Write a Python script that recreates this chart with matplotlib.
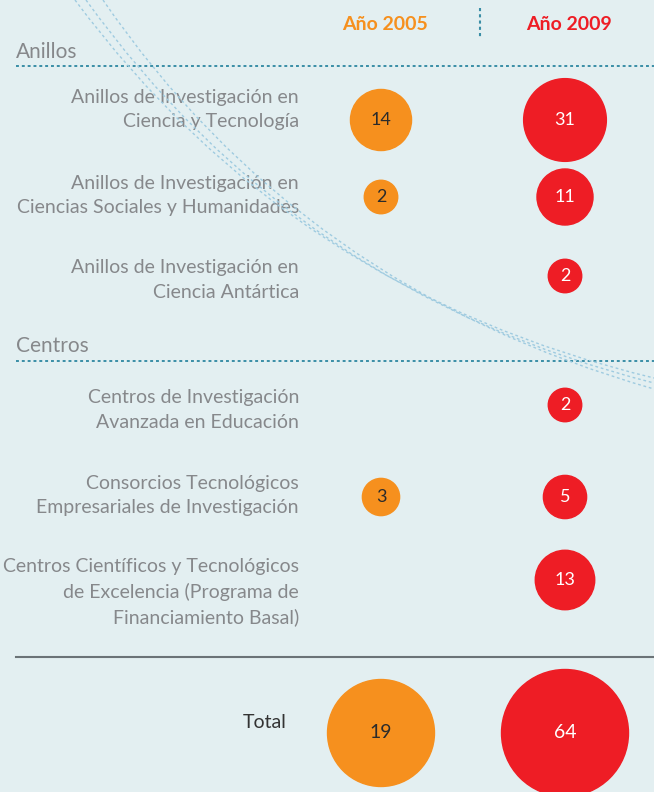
import numpy as np
import matplotlib
matplotlib.use("Agg")
import matplotlib.pyplot as plt
from matplotlib.patches import Circle, PathPatch
from matplotlib.path import Path

# data
years = ["Año 2005", "Año 2009"]
sections = ["Anillos", "Centros"]
labels = [
    "Anillos de Investigación en\nCiencia y Tecnología",
    "Anillos de Investigación en\nCiencias Sociales y Humanidades",
    "Anillos de Investigación en\nCiencia Antártica",
    "Centros de Investigación\nAvanzada en Educación",
    "Consorcios Tecnológicos\nEmpresariales de Investigación",
    "Centros Científicos y Tecnológicos\nde Excelencia (Programa de\nFinanciamiento Basal)",
]
v2005 = [14, 2, None, None, 3, None]
v2009 = [31, 11, 2, 2, 5, 13]
total_label = "Total"
totals = [19, 64]

# layout (pixel coords)
W, H = 654, 792
bg = "#e3eff1"
orange = "#f6901e"
red = "#ee1d25"
grey = "#86888b"
teal = "#3a8ea6"
col_x = [381, 565]
row_y = [120, 197, 276, 405, 497, 580]
label_y = [110, 195, 280, 410, 495, 592]
font = ["Lato", "DejaVu Sans"]


def diam(v):
    return 16.7 + 11.86 * np.sqrt(v)


def diam_total(v):
    return 83 + 5.5 * np.sqrt(v)


fig = plt.figure(figsize=(W / 100, H / 100), dpi=100, facecolor=bg)
ax = fig.add_axes([0, 0, 1, 1])
ax.set_xlim(0, W)
ax.set_ylim(H, 0)
ax.set_facecolor(bg)
ax.axis("off")

# decorative dotted arcs
for p0, c, p1 in [((75, 0), (291, 291), (654, 378)),
                  ((86, 0), (296, 292), (654, 383)),
                  ((103, 0), (300, 288), (654, 389))]:
    path = Path([p0, c, p1], [Path.MOVETO, Path.CURVE3, Path.CURVE3])
    ax.add_patch(PathPatch(path, fill=False, ec="#9fcbe0", lw=1.0,
                           ls=(0, (2, 2)), zorder=5))

# headers
for x, txt, colr in zip(col_x, years, [orange, red]):
    ax.text(x + 4, 24, txt, color=colr, fontsize=14, fontweight="bold",
            ha="center", va="center", family=font)
ax.plot([480, 480], [8, 37], color=teal, lw=1.5, ls=(0, (1.5, 1.5)))

# section headers and rules
for name, yb, yl in zip(sections, [58, 352], [66, 361]):
    ax.text(16, yb, name, color=grey, fontsize=15,
            ha="left", va="baseline", family=font)
    ax.plot([16, W], [yl, yl], color=teal, lw=1.4, ls=(0, (1.5, 1.5)),
            zorder=2)

# rows
for i, lab in enumerate(labels):
    ax.text(299, label_y[i], lab, color=grey, fontsize=14,
            ha="right", va="center", multialignment="right",
            linespacing=1.5, family=font)
    for j, vals in enumerate([v2005, v2009]):
        v = vals[i]
        if v is None:
            continue
        colr = orange if j == 0 else red
        ax.add_patch(Circle((col_x[j], row_y[i]), diam(v) / 2, color=colr,
                            zorder=3))
        ax.text(col_x[j], row_y[i], str(v), fontsize=13,
                color="#2b2b2b" if j == 0 else "white",
                ha="center", va="center", zorder=4, family=font)

# total
ax.plot([16, W], [657, 657], color="#6b7377", lw=1.5)
ax.text(287, 723, total_label, color="#333333", fontsize=14,
        ha="right", va="center", family=font)
for j, v in enumerate(totals):
    colr = orange if j == 0 else red
    ax.add_patch(Circle((col_x[j], 733), diam_total(v) / 2, color=colr,
                        zorder=3))
    ax.text(col_x[j], 733, str(v), fontsize=14,
            color="#2b2b2b" if j == 0 else "white",
            ha="center", va="center", zorder=4, family=font)

fig.savefig("out.png", dpi=100, facecolor=bg)
